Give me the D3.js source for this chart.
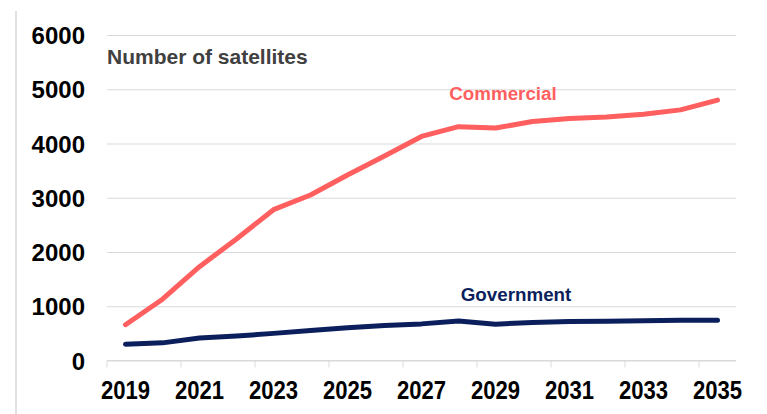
<!DOCTYPE html>
<html>
<head>
<meta charset="utf-8">
<script src="https://cdn.jsdelivr.net/npm/d3@7"></script>
<style>
  body { margin: 0; background: #fff; }
  svg { display: block; font-family: "Liberation Sans", Arial, sans-serif; }
</style>
</head>
<body>
<svg id="chart" width="767" height="414"></svg>
<script>
// data
const years = [2019, 2020, 2021, 2022, 2023, 2024, 2025, 2026, 2027, 2028, 2029, 2030, 2031, 2032, 2033, 2034, 2035]
const commercial = [660, 1130, 1730, 2240, 2780, 3050, 3420, 3770, 4130, 4310, 4285, 4405, 4460, 4490, 4540, 4620, 4800]
const government = [300, 325, 415, 450, 500, 555, 605, 645, 675, 730, 670, 700, 720, 725, 735, 740, 740]
const yTicks = [0, 1000, 2000, 3000, 4000, 5000, 6000]
const xLabels = [2019, 2021, 2023, 2025, 2027, 2029, 2031, 2033, 2035]

const red = '#ff5f5f', navy = '#0b1f5c', grid = '#d9d9d9'

const svg = d3.select('#chart')

const x = d3.scaleBand().domain(years).range([107, 736]).padding(0)
const y = d3.scaleLinear().domain([0, 6000]).range([360.5, 35])

// left frame line
svg.append('line')
    .attr('x1', 16).attr('x2', 16)
    .attr('y1', 11).attr('y2', 414)
    .attr('stroke', grid).attr('stroke-width', 1.5)

// y axis + gridlines
const yAxis = svg.append('g')
    .attr('transform', 'translate(107,0)')
    .call(d3.axisLeft(y).tickValues(yTicks).tickSize(-(736 - 107)).tickPadding(22).tickFormat(d3.format('d')))
yAxis.select('.domain').remove()
yAxis.selectAll('.tick line').attr('stroke', grid).attr('stroke-width', 1)
yAxis.selectAll('.tick text')
    .style('font-size', '24px').style('font-weight', 'bold')
    .attr('fill', '#000').attr('dy', '0.36em')
    .attr('font-family', '"Liberation Sans", Arial, sans-serif')

// x axis: baseline, tick marks on band edges, labels on odd years
svg.append('line')
    .attr('x1', 107).attr('x2', 736)
    .attr('y1', y(0)).attr('y2', y(0))
    .attr('stroke', grid).attr('stroke-width', 1)

svg.append('g')
    .selectAll('line')
    .data(xLabels)
    .enter()
    .append('line')
        .attr('x1', d => x(d)).attr('x2', d => x(d))
        .attr('y1', y(0)).attr('y2', y(0) + 7)
        .attr('stroke', grid).attr('stroke-width', 1)

svg.append('g')
    .selectAll('text')
    .data(xLabels)
    .enter()
    .append('text')
        .attr('transform', d => `translate(${x(d) + x.bandwidth() / 2},399) scale(0.92,1.06)`)
        .attr('text-anchor', 'middle')
        .style('font-size', '24px').style('font-weight', 'bold')
        .attr('fill', '#000')
        .text(d => d)

// unit label
svg.append('text')
    .attr('x', 107).attr('y', 64)
    .style('font-size', '21px').style('font-weight', 'bold')
    .attr('fill', '#404040')
    .text('Number of satellites')

// series lines
const line = d3.line()
    .x((d, i) => x(years[i]) + x.bandwidth() / 2)
    .y(d => y(d))

const printLine = (data, color) =>
    svg.append('path')
        .datum(data)
        .attr('d', line)
        .attr('fill', 'none')
        .attr('stroke', color)
        .attr('stroke-width', 5)
        .attr('stroke-linejoin', 'round')
        .attr('stroke-linecap', 'round')

printLine(commercial, red)
printLine(government, navy)

// series labels
svg.append('text')
    .attr('x', 503).attr('y', 100)
    .attr('text-anchor', 'middle')
    .style('font-size', '18.8px').style('font-weight', 'bold')
    .attr('fill', red)
    .text('Commercial')

svg.append('text')
    .attr('x', 516).attr('y', 300.5)
    .attr('text-anchor', 'middle')
    .style('font-size', '18.8px').style('font-weight', 'bold')
    .attr('fill', navy)
    .text('Government')
</script>
</body>
</html>
